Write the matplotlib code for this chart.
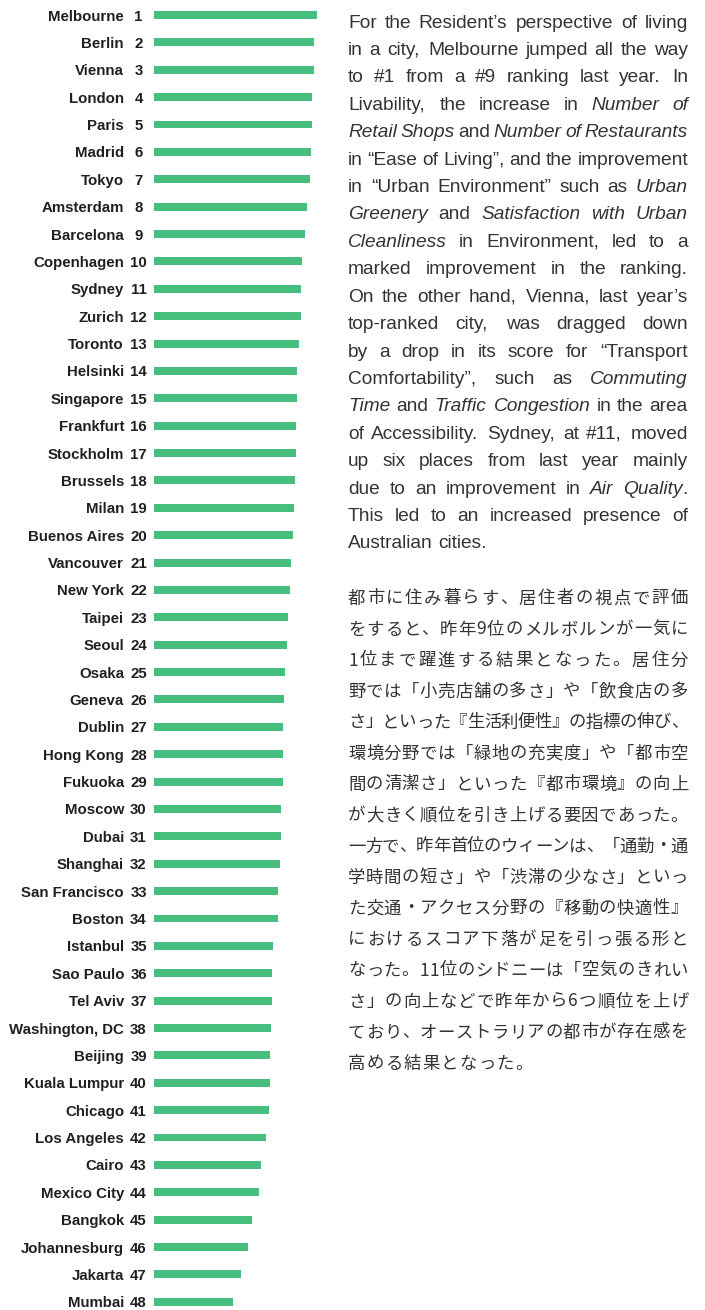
import matplotlib
matplotlib.use("Agg")
import matplotlib.pyplot as plt
from matplotlib import font_manager, ft2font
from matplotlib.font_manager import FontProperties
import matplotlib.transforms as mtransforms

# ---------------- data ----------------
cities = ["Melbourne", "Berlin", "Vienna", "London", "Paris", "Madrid", "Tokyo",
          "Amsterdam", "Barcelona", "Copenhagen", "Sydney", "Zurich", "Toronto",
          "Helsinki", "Singapore", "Frankfurt", "Stockholm", "Brussels", "Milan",
          "Buenos Aires", "Vancouver", "New York", "Taipei", "Seoul", "Osaka",
          "Geneva", "Dublin", "Hong Kong", "Fukuoka", "Moscow", "Dubai", "Shanghai",
          "San Francisco", "Boston", "Istanbul", "Sao Paulo", "Tel Aviv",
          "Washington, DC", "Beijing", "Kuala Lumpur", "Chicago", "Los Angeles",
          "Cairo", "Mexico City", "Bangkok", "Johannesburg", "Jakarta", "Mumbai"]
ranks = [1, 2, 3, 4, 5, 6, 7, 8, 9, 10, 11, 12, 13, 14, 15, 16, 17, 18, 19, 20,
         21, 22, 23, 24, 25, 26, 27, 28, 29, 30, 31, 32, 33, 34, 35, 36, 37, 38,
         39, 40, 41, 42, 43, 44, 45, 46, 47, 48]
scores = [163, 160, 160, 158, 158, 157, 156, 153, 151, 148, 147, 147, 145, 143,
          143, 142, 142, 141, 140, 139, 137, 136, 134, 133, 131, 130, 129, 129,
          129, 127, 127, 126, 124, 124, 119, 118, 118, 117, 116, 116, 115, 112,
          107, 105, 98, 94, 87, 79]

text_en = [
    "For the Resident’s perspective of living",
    "in a city, Melbourne jumped all the way",
    "to #1 from a #9 ranking last year. In",
    "Livability, the increase in *Number of*",
    "*Retail Shops* and *Number of Restaurants*",
    "in “Ease of Living”, and the improvement",
    "in “Urban Environment” such as *Urban*",
    "*Greenery* and *Satisfaction with Urban*",
    "*Cleanliness* in Environment, led to a",
    "marked improvement in the ranking.",
    "On the other hand, Vienna, last year’s",
    "top-ranked city, was dragged down",
    "by a drop in its score for “Transport",
    "Comfortability”, such as *Commuting*",
    "*Time* and *Traffic Congestion* in the area",
    "of Accessibility. Sydney, at #11, moved",
    "up six places from last year mainly",
    "due to an improvement in *Air Quality*.",
    "This led to an increased presence of",
    "Australian cities.",
]

text_ja = [
    "都市に住み暮らす、居住者の視点で評価",
    "をすると、昨年9位のメルボルンが一気に",
    "1位まで躍進する結果となった。居住分",
    "野では「小売店舗の多さ」や「飲食店の多",
    "さ」といった『生活利便性』の指標の伸び、",
    "環境分野では「緑地の充実度」や「都市空",
    "間の清潔さ」といった『都市環境』の向上",
    "が大きく順位を引き上げる要因であった。",
    "一方で、昨年首位のウィーンは、「通勤・通",
    "学時間の短さ」や「渋滞の少なさ」といっ",
    "た交通・アクセス分野の『移動の快適性』",
    "におけるスコア下落が足を引っ張る形と",
    "なった。11位のシドニーは「空気のきれい",
    "さ」の向上などで昨年から6つ順位を上げ",
    "ており、オーストラリアの都市が存在感を",
    "高める結果となった。",
]

# ---------------- style ----------------
FIG_W, FIG_H, DPI = 705, 1310, 100
BAR_COLOR = "#45BE7E"
LABEL_COLOR = "#231F20"
TEXT_COLOR = "#333333"

fig = plt.figure(figsize=(FIG_W / DPI, FIG_H / DPI), dpi=DPI)
fig.patch.set_facecolor("white")

# ---------------- bars ----------------
ax = fig.add_axes([154 / FIG_W, 0, 180 / FIG_W, 1])
ypos = list(range(len(cities)))
ax.barh(ypos, scores, height=0.29, color=BAR_COLOR, left=0)
ax.set_xlim(0, 180)
ax.set_ylim(47.30, -0.548)
ax.axis("off")

trans = mtransforms.blended_transform_factory(fig.transFigure, ax.transData)
lab_kw = dict(family=["Liberation Sans", "DejaVu Sans"], weight="bold",
              size=10.8, color=LABEL_COLOR)
for y, c, r in zip(ypos, cities, ranks):
    ax.text(124 / FIG_W, y, c, ha="right", va="center_baseline",
            transform=trans, **lab_kw)
    ax.text(138.5 / FIG_W, y, str(r), ha="center", va="center_baseline",
            transform=trans, **lab_kw)

# ---------------- text helpers ----------------
_fonts = {}
try:
    NOHINT = ft2font.LoadFlags.NO_HINTING
except AttributeError:
    NOHINT = ft2font.LOAD_NO_HINTING


def _ftfont(fp):
    path = font_manager.findfont(fp)
    if path not in _fonts:
        _fonts[path] = ft2font.FT2Font(path)
    f = _fonts[path]
    f.set_size(fp.get_size_in_points(), DPI)
    return f


def advance(s, fp):
    f = _ftfont(fp)
    tot = 0.0
    for ch in s:
        g = f.load_char(ord(ch), flags=NOHINT)
        tot += g.linearHoriAdvance / 65536
    return tot


def parse_line(line):
    words, cur, buf, italic = [], [], "", False
    for ch in line:
        if ch == "*":
            if buf:
                cur.append((buf, italic))
                buf = ""
            italic = not italic
        elif ch == " ":
            if buf:
                cur.append((buf, italic))
                buf = ""
            if cur:
                words.append(cur)
                cur = []
        else:
            buf += ch
    if buf:
        cur.append((buf, italic))
    if cur:
        words.append(cur)
    return words


def put(x, ybase, s, fp):
    fig.text(x / FIG_W, 1 - ybase / FIG_H, s, fontproperties=fp,
             color=TEXT_COLOR, ha="left", va="baseline")


# ---------------- English paragraph ----------------
EN_LEFT, EN_RIGHT = 348, 688
EN_BASE0, EN_STEP = 27.5, 27.42
en_size = 13.8
fp_r = FontProperties(family="Liberation Sans", size=en_size)
fp_i = FontProperties(family="Liberation Sans", style="italic", size=en_size)
space_w = advance(" ", fp_r)

for li, line in enumerate(text_en):
    words = parse_line(line)
    widths = [sum(advance(t, fp_i if it else fp_r) for t, it in w) for w in words]
    last = li == len(text_en) - 1
    if last or len(words) < 2:
        gap = space_w
    else:
        gap = (EN_RIGHT - EN_LEFT - sum(widths)) / (len(words) - 1)
    x = EN_LEFT
    yb = EN_BASE0 + li * EN_STEP
    for w in words:
        for t, it in w:
            fp = fp_i if it else fp_r
            put(x, yb, t, fp)
            x += advance(t, fp)
        x += gap

# ---------------- Japanese paragraph ----------------
JA_LEFT, JA_RIGHT = 348, 688
JA_BASE0, JA_STEP = 603.5, 31.0
fp_j = FontProperties(family="Noto Sans CJK JP", size=12.5)
for li, line in enumerate(text_ja):
    adv = [advance(ch, fp_j) for ch in line]
    last = li == len(text_ja) - 1
    if last:
        gap = 1.2
    else:
        gap = (JA_RIGHT - JA_LEFT - sum(adv)) / (len(line) - 1)
    x = JA_LEFT
    yb = JA_BASE0 + li * JA_STEP
    for ch, a in zip(line, adv):
        put(x, yb, ch, fp_j)
        x += a + gap

fig.savefig("out.png", dpi=DPI, facecolor="white")
